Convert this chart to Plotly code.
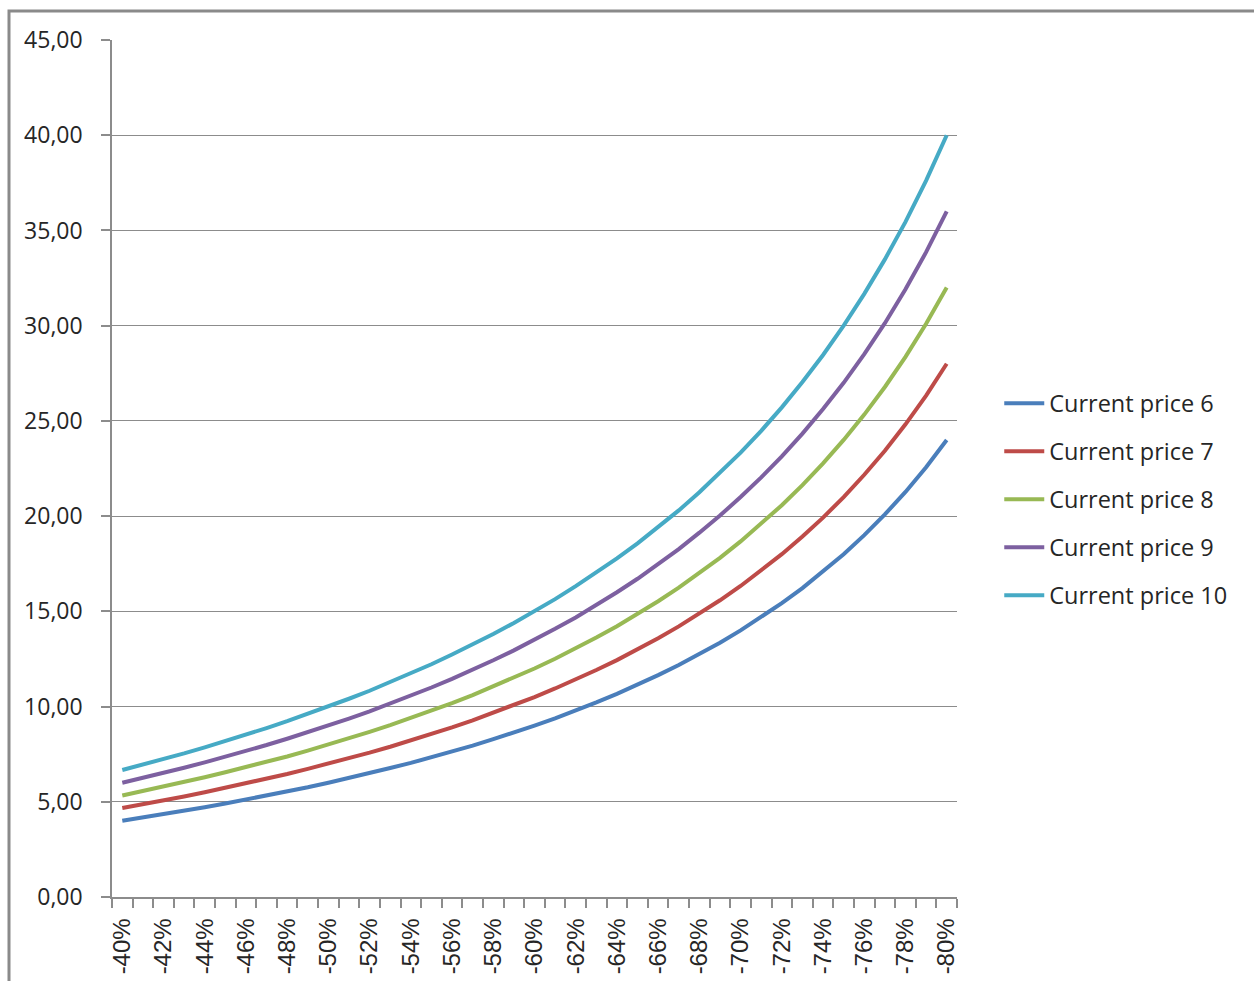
import plotly.graph_objects as go

# Price drop steps (percent), one category per 1 %
drops = list(range(-40, -81, -1))
tick_drops = list(range(-40, -81, -2))
tick_text = [f"{d}%" for d in tick_drops]

series_names = ["Current price 6", "Current price 7", "Current price 8",
                "Current price 9", "Current price 10"]

price_6 = [4.00, 4.17, 4.34, 4.53, 4.71, 4.91, 5.11, 5.32, 5.54, 5.76, 6.00,
           6.24, 6.50, 6.77, 7.04, 7.33, 7.64, 7.95, 8.29, 8.63, 9.00,
           9.38, 9.79, 10.22, 10.67, 11.14, 11.65, 12.18, 12.75, 13.35, 14.00,
           14.69, 15.43, 16.22, 17.08, 18.00, 19.00, 20.09, 21.27, 22.57, 24.00]
price_7 = [4.67, 4.86, 5.07, 5.28, 5.50, 5.73, 5.96, 6.21, 6.46, 6.73, 7.00,
           7.29, 7.58, 7.89, 8.22, 8.56, 8.91, 9.28, 9.67, 10.07, 10.50,
           10.95, 11.42, 11.92, 12.44, 13.00, 13.59, 14.21, 14.88, 15.58, 16.33,
           17.14, 18.00, 18.93, 19.92, 21.00, 22.17, 23.43, 24.82, 26.33, 28.00]
price_8 = [5.33, 5.56, 5.79, 6.04, 6.29, 6.55, 6.81, 7.09, 7.38, 7.69, 8.00,
           8.33, 8.67, 9.02, 9.39, 9.78, 10.18, 10.60, 11.05, 11.51, 12.00,
           12.51, 13.05, 13.62, 14.22, 14.86, 15.53, 16.24, 17.00, 17.81, 18.67,
           19.59, 20.57, 21.63, 22.77, 24.00, 25.33, 26.78, 28.36, 30.10, 32.00]
price_9 = [6.00, 6.25, 6.52, 6.79, 7.07, 7.36, 7.67, 7.98, 8.31, 8.65, 9.00,
           9.37, 9.75, 10.15, 10.57, 11.00, 11.45, 11.93, 12.43, 12.95, 13.50,
           14.08, 14.68, 15.32, 16.00, 16.71, 17.47, 18.27, 19.13, 20.03, 21.00,
           22.03, 23.14, 24.33, 25.62, 27.00, 28.50, 30.13, 31.91, 33.86, 36.00]
price_10 = [6.67, 6.95, 7.24, 7.54, 7.86, 8.18, 8.52, 8.87, 9.23, 9.61, 10.00,
            10.41, 10.83, 11.28, 11.74, 12.22, 12.73, 13.26, 13.81, 14.39, 15.00,
            15.64, 16.32, 17.03, 17.78, 18.57, 19.41, 20.30, 21.25, 22.26, 23.33,
            24.48, 25.71, 27.04, 28.46, 30.00, 31.67, 33.48, 35.45, 37.62, 40.00]

series_values = [price_6, price_7, price_8, price_9, price_10]
colors = ["#4A7EBB", "#BE4B48", "#98B954", "#7D60A0", "#46AAC5"]

GRID = "#8C8C8C"
TEXT = "#262626"

fig = go.Figure()
for i, (name, vals, col) in enumerate(zip(series_names, series_values, colors)):
    fig.add_trace(go.Scatter(
        x=drops, y=vals, name=name, mode="lines",
        line=dict(color=col, width=4),
        legendgroup=f"g{i}",
    ))

fig.update_layout(
    width=1254, height=981,
    margin=dict(l=112, r=297, t=40, b=84, autoexpand=False),
    paper_bgcolor="white", plot_bgcolor="white",
    separators=",.",
    font=dict(family="Open Sans", color=TEXT),
    showlegend=True,
    legend=dict(
        x=1.05, xanchor="left", xref="paper",
        y=0.464, yanchor="middle",
        font=dict(family="Open Sans", size=23.5, color=TEXT),
        tracegroupgap=14.5,
        bgcolor="rgba(0,0,0,0)",
        itemwidth=40,
    ),
    xaxis=dict(
        range=[-39.5, -80.5],
        tickmode="array", tickvals=tick_drops, ticktext=tick_text,
        ticks="", tickangle=-90,
        tickfont=dict(family="Liberation Sans", size=24, color=TEXT),
        ticklabelstandoff=10,
        automargin=False,
        showgrid=False, zeroline=False,
        showline=True, linecolor=GRID, linewidth=1.5,
        minor=dict(tick0=-39.5, dtick=1, ticks="outside", ticklen=9,
                   tickcolor=GRID, tickwidth=1.5, showgrid=False),
    ),
    yaxis=dict(
        range=[0, 45], dtick=5, tick0=0,
        tickformat=".2f",
        ticks="outside", ticklen=9, tickcolor=GRID, tickwidth=1.5,
        tickfont=dict(family="Open Sans", size=23, color=TEXT),
        ticklabelstandoff=14,
        automargin=False,
        showgrid=True, gridcolor=GRID, gridwidth=1.2,
        zeroline=False,
        showline=True, linecolor=GRID, linewidth=1.5,
    ),
    shapes=[dict(
        type="rect", xref="paper", yref="paper",
        x0=(9 - 112) / 845, x1=2.0,
        y0=-1.0, y1=(897 - 11) / 857,
        line=dict(color="#8A8A8A", width=3),
        fillcolor="rgba(0,0,0,0)", layer="above",
    )],
)

fig.write_html("out.html")
